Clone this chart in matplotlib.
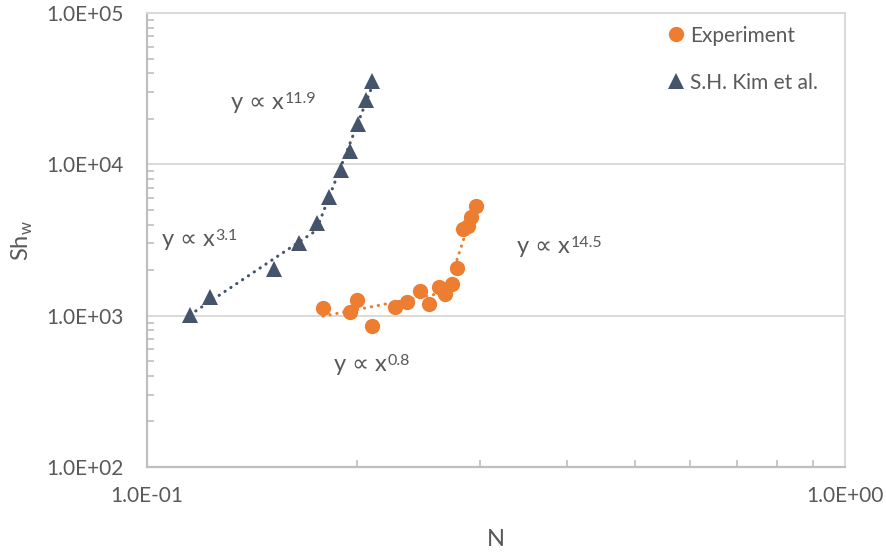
import numpy as np
import matplotlib
matplotlib.use("Agg")
import matplotlib.pyplot as plt
from matplotlib.ticker import FuncFormatter, LogLocator, NullFormatter

OUT_PATH = "out.png"

# experiment points (N, Sh_w)
exp_n = [0.1787, 0.1953, 0.2000, 0.2101, 0.2266, 0.2358, 0.2461, 0.2535,
         0.2620, 0.2673, 0.2735, 0.2780, 0.2836, 0.2884, 0.2912, 0.2960]
exp_sh = [1124, 1057, 1269, 854, 1141, 1231, 1455, 1194,
          1546, 1390, 1619, 2065, 3737, 3913, 4487, 5303]

# S.H. Kim et al.
kim_n = [0.1152, 0.1231, 0.1520, 0.1651, 0.1752, 0.1823, 0.1897, 0.1953,
         0.2006, 0.2060, 0.2101]
kim_sh = [1010, 1329, 2034, 3020, 4095, 6083, 9173, 12246, 18470, 26610, 35530]

# which points each power-law trendline is fitted over (start, stop)
exp_fits = [(0, 11), (11, 16)]
kim_fits = [(0, 5), (4, 11)]

# trendline labels: exponent, position in axes fraction (left, baseline)
labels = [("11.9", 0.1203, 0.7885), ("3.1", 0.0215, 0.4868),
          ("14.5", 0.5301, 0.4714), ("0.8", 0.2679, 0.2115)]

ORANGE = "#ED7D31"
NAVY = "#44546A"
TEXT = "#595959"
GRID = "#D9D9D9"
AXIS = "#BFBFBF"
FONT = ["Lato", "DejaVu Sans"]

plt.rcParams["font.family"] = FONT


def power_trend(ax, xs, ys, color):
    lx, ly = np.log10(xs), np.log10(ys)
    b, a = np.polyfit(lx, ly, 1)
    xx = np.array([min(xs), max(xs)])
    ax.plot(xx, 10 ** a * xx ** b, color=color, lw=2.2, linestyle=(0, (0.1, 2.2)),
            dash_capstyle="round", zorder=2)


fig = plt.figure(figsize=(8.86, 5.55), dpi=100)
ax = fig.add_axes([147 / 886, 88 / 555, 698 / 886, 454 / 555])
ax.set_xscale("log")
ax.set_yscale("log")
ax.set_xlim(0.1, 1.0)
ax.set_ylim(1e2, 1e5)

for s, e in exp_fits:
    power_trend(ax, exp_n[s:e], exp_sh[s:e], ORANGE)
for s, e in kim_fits:
    power_trend(ax, kim_n[s:e], kim_sh[s:e], NAVY)

ax.plot(exp_n, exp_sh, "o", color=ORANGE, ms=11, mew=0, label="Experiment", zorder=3)
ax.plot(kim_n, kim_sh, "^", color=NAVY, ms=11, mew=0, label="S.H. Kim et al.", zorder=3)

ax.grid(True, which="major", color=GRID, lw=1.4, zorder=0)
ax.set_axisbelow(True)
for side in ["top", "right"]:
    ax.spines[side].set_color(GRID)
    ax.spines[side].set_linewidth(1.4)
for side in ["left", "bottom"]:
    ax.spines[side].set_color(AXIS)
    ax.spines[side].set_linewidth(1.6)

ax.xaxis.set_major_locator(LogLocator(base=10, numticks=10))
ax.yaxis.set_major_locator(LogLocator(base=10, numticks=10))
ax.xaxis.set_minor_locator(LogLocator(base=10, subs=np.arange(2, 10), numticks=10))
ax.yaxis.set_minor_locator(LogLocator(base=10, subs=np.arange(2, 10), numticks=10))
ax.xaxis.set_minor_formatter(NullFormatter())
ax.yaxis.set_minor_formatter(NullFormatter())
fmt = FuncFormatter(lambda v, p: f"{v:.1E}")
ax.xaxis.set_major_formatter(fmt)
ax.yaxis.set_major_formatter(fmt)
ax.tick_params(which="both", direction="in", color=AXIS, width=1.2, labelcolor=TEXT,
               labelsize=15)
ax.tick_params(which="major", length=0)
ax.tick_params(which="minor", length=5)
ax.tick_params(axis="y", pad=16.5)
ax.tick_params(axis="x", pad=14)

ax.set_xlabel("N", fontsize=17, color=TEXT, va="center")
ax.xaxis.set_label_coords(0.5, (467 - 540) / 454)
ax.set_ylabel("Sh$_\\mathregular{w}$", fontsize=17, color=TEXT, va="center")
ax.yaxis.set_label_coords((22 - 147) / 698, (467 - 241) / 454)

for exp, fx, fy in labels:
    base = ax.text(fx, fy, "y \u221d x", transform=ax.transAxes, fontsize=17,
                   color=TEXT, ha="left", va="baseline")
    ax.annotate(exp, xy=(1, 1), xycoords=base, xytext=(0.5, 0), textcoords="offset points",
                fontsize=11.5, color=TEXT, ha="left", va="top")

ax.legend(loc="upper left", bbox_to_anchor=(653 / 886, 1 - 11 / 555),
          bbox_transform=fig.transFigure, frameon=False, fontsize=15, labelcolor=TEXT,
          handlelength=0.8, handletextpad=0.3, labelspacing=1.3, borderpad=0.2)

fig.savefig(OUT_PATH, dpi=100)
